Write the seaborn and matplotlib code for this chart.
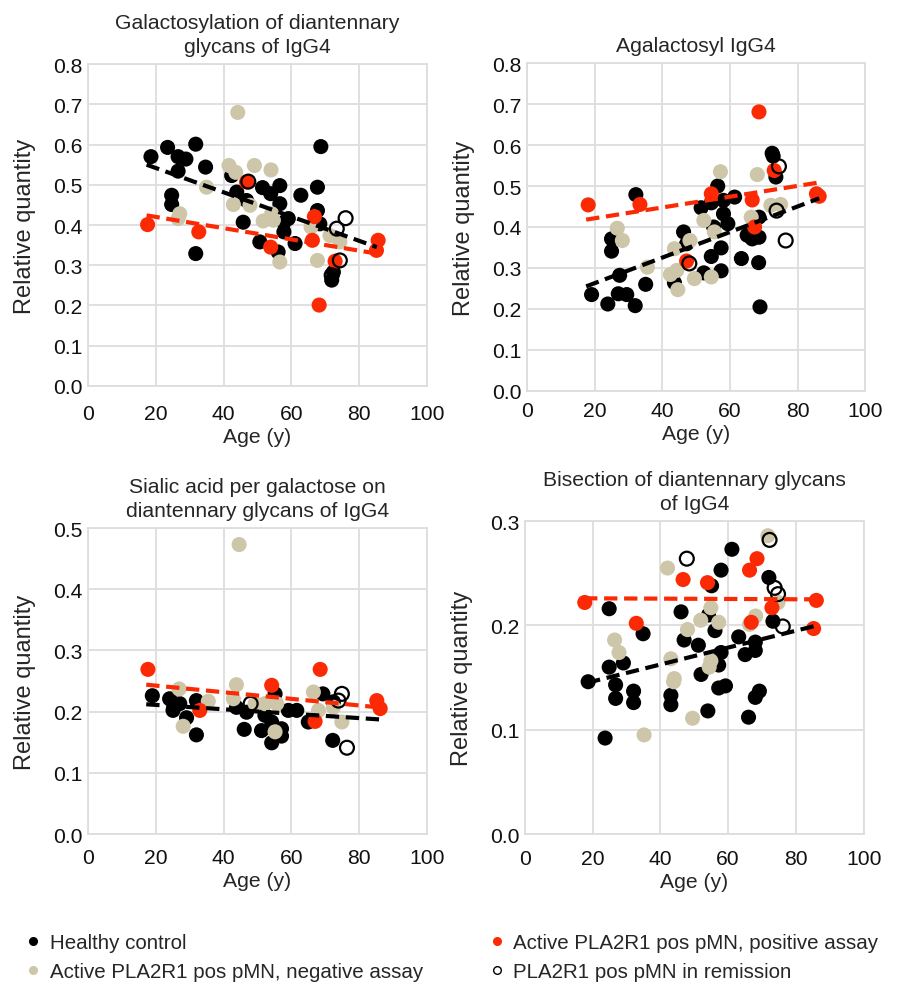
import matplotlib
matplotlib.use("Agg")
import matplotlib.pyplot as plt
from matplotlib.lines import Line2D
import seaborn as sns
import pandas as pd
import numpy as np

# groups
groups = ["Healthy control", "Active PLA2R1 pos pMN, negative assay",
          "Active PLA2R1 pos pMN, positive assay", "PLA2R1 pos pMN in remission"]
colors = {"Healthy control": "#000000",
          "Active PLA2R1 pos pMN, negative assay": "#cdc6a9",
          "Active PLA2R1 pos pMN, positive assay": "#fb2a04",
          "PLA2R1 pos pMN in remission": "#000000"}

titles = ["Galactosylation of diantennary\nglycans of IgG4",
          "Agalactosyl IgG4",
          "Sialic acid per galactose on\ndiantennary glycans of IgG4",
          "Bisection of diantennary glycans\nof IgG4"]
ymax = [0.8, 0.8, 0.5, 0.3]

# (age, relative quantity)
gal_healthy = [(18.6, 0.570), (23.5, 0.593), (26.6, 0.570), (28.9, 0.564), (26.6, 0.534), (31.8, 0.601),
               (34.7, 0.544), (24.7, 0.474), (24.7, 0.451), (31.8, 0.329), (42.4, 0.523), (43.9, 0.482),
               (46.8, 0.461), (45.8, 0.407), (51.5, 0.493), (53.9, 0.478), (56.6, 0.498), (56.6, 0.453),
               (50.7, 0.358), (56.1, 0.333), (57.8, 0.407), (57.8, 0.383), (59.1, 0.416), (61.1, 0.354),
               (62.8, 0.474), (67.7, 0.494), (67.7, 0.436), (68.7, 0.595), (68.4, 0.403), (71.9, 0.263),
               (72.4, 0.283)]
gal_negative = [(44.2, 0.680), (41.6, 0.548), (43.6, 0.531), (49.1, 0.548), (54.0, 0.537), (35.0, 0.494),
                (27.1, 0.428), (26.6, 0.416), (42.9, 0.451), (47.8, 0.449), (51.7, 0.410), (54.7, 0.412),
                (54.2, 0.428), (56.6, 0.308), (67.7, 0.312), (65.8, 0.395), (71.4, 0.374), (74.3, 0.358)]
gal_positive = [(17.6, 0.401), (32.7, 0.383), (46.8, 0.507), (53.9, 0.345), (66.2, 0.362), (66.8, 0.421),
                (68.2, 0.201), (72.9, 0.310), (85.6, 0.362), (85.1, 0.337)]
gal_remission = [(47.3, 0.508), (76.0, 0.417), (73.4, 0.391), (74.3, 0.312), (71.9, 0.275)]

agal_healthy = [(72.5, 0.580), (72.8, 0.573), (73.6, 0.522), (32.2, 0.479), (56.4, 0.500), (51.5, 0.447),
                (54.5, 0.459), (58.1, 0.465), (61.4, 0.473), (58.1, 0.432), (59.4, 0.408), (55.2, 0.400),
                (68.6, 0.424), (65.1, 0.380), (66.6, 0.371), (68.6, 0.375), (46.3, 0.388), (25.0, 0.371),
                (25.0, 0.341), (47.2, 0.359), (57.4, 0.349), (54.5, 0.328), (63.4, 0.323), (68.5, 0.313),
                (57.4, 0.293), (52.3, 0.288), (27.4, 0.282), (35.1, 0.260), (43.6, 0.264), (19.1, 0.235),
                (27.0, 0.237), (29.5, 0.235), (23.9, 0.212), (32.0, 0.208), (68.9, 0.205)]
agal_negative = [(57.2, 0.535), (68.1, 0.528), (72.1, 0.453), (75.0, 0.455), (66.3, 0.424), (52.3, 0.416),
                 (55.4, 0.388), (26.7, 0.397), (28.2, 0.367), (48.2, 0.367), (43.6, 0.347), (35.6, 0.302),
                 (44.3, 0.294), (42.4, 0.284), (49.5, 0.274), (54.5, 0.278), (44.6, 0.247)]
agal_positive = [(68.6, 0.681), (18.1, 0.454), (33.4, 0.455), (54.5, 0.481), (66.6, 0.466), (67.3, 0.400),
                 (73.1, 0.538), (85.6, 0.481), (86.4, 0.475), (47.2, 0.317)]
agal_remission = [(74.5, 0.548), (73.8, 0.440), (76.5, 0.367), (48.0, 0.311)]

sia_healthy = [(19.0, 0.226), (24.1, 0.221), (25.1, 0.202), (27.1, 0.213), (29.1, 0.190), (32.0, 0.218),
               (32.0, 0.162), (43.8, 0.207), (46.8, 0.199), (46.1, 0.171), (51.2, 0.169), (52.2, 0.194),
               (55.2, 0.229), (54.2, 0.183), (57.1, 0.172), (57.1, 0.160), (54.2, 0.149), (59.1, 0.202),
               (61.6, 0.202), (65.0, 0.183), (69.3, 0.229), (72.2, 0.153), (72.4, 0.216)]
sia_negative = [(44.6, 0.473), (26.9, 0.237), (35.5, 0.217), (28.1, 0.176), (43.8, 0.244), (42.9, 0.221),
                (49.3, 0.213), (52.2, 0.213), (55.7, 0.213), (55.2, 0.167), (66.5, 0.232), (68.0, 0.202),
                (74.9, 0.183), (72.4, 0.207)]
sia_positive = [(17.7, 0.269), (68.5, 0.269), (54.2, 0.243), (33.0, 0.202), (67.0, 0.184), (85.2, 0.218),
                (86.2, 0.205)]
sia_remission = [(48.0, 0.213), (74.9, 0.229), (73.9, 0.218), (76.4, 0.141)]

bis_healthy = [(24.9, 0.216), (34.9, 0.192), (46.1, 0.213), (47.0, 0.186), (51.2, 0.181), (55.1, 0.238),
               (54.2, 0.210), (56.1, 0.195), (57.9, 0.253), (61.1, 0.273), (63.1, 0.189), (72.0, 0.246),
               (73.2, 0.204), (68.0, 0.184), (68.0, 0.176), (65.0, 0.172), (57.9, 0.174), (57.2, 0.162),
               (52.0, 0.153), (57.2, 0.140), (59.2, 0.142), (69.2, 0.137), (68.0, 0.131), (66.0, 0.112),
               (54.0, 0.118), (43.1, 0.133), (43.1, 0.124), (32.1, 0.137), (32.1, 0.126), (26.8, 0.143),
               (26.8, 0.130), (24.9, 0.160), (29.1, 0.164), (18.7, 0.146), (23.7, 0.092)]
bis_negative = [(71.7, 0.286), (42.1, 0.255), (26.5, 0.186), (27.8, 0.174), (54.9, 0.217), (51.9, 0.205),
                (57.2, 0.203), (48.0, 0.196), (68.1, 0.209), (66.3, 0.201), (43.1, 0.168), (44.1, 0.149),
                (43.9, 0.146), (54.9, 0.166), (54.4, 0.160), (49.5, 0.111), (35.2, 0.095), (74.7, 0.222)]
bis_positive = [(17.7, 0.222), (32.9, 0.202), (46.7, 0.244), (53.9, 0.241), (66.3, 0.253), (68.5, 0.264),
                (72.9, 0.217), (86.0, 0.224), (85.2, 0.197), (66.8, 0.203)]
bis_remission = [(47.8, 0.264), (72.2, 0.282), (73.7, 0.236), (74.7, 0.230), (76.1, 0.199)]

# trend lines (start, end)
gal_trend_healthy = [(17.3, 0.550), (85.2, 0.345)]
gal_trend_positive = [(17.3, 0.424), (85.2, 0.329)]
agal_trend_healthy = [(17.5, 0.255), (86.4, 0.470)]
agal_trend_positive = [(17.5, 0.418), (86.6, 0.509)]
sia_trend_healthy = [(17.2, 0.212), (86.7, 0.187)]
sia_trend_positive = [(17.2, 0.244), (85.7, 0.207)]
bis_trend_healthy = [(18.4, 0.145), (86.2, 0.200)]
bis_trend_positive = [(17.5, 0.226), (86.0, 0.225)]

panels = [
    ([gal_healthy, gal_negative, gal_positive, gal_remission], gal_trend_healthy, gal_trend_positive),
    ([agal_healthy, agal_negative, agal_positive, agal_remission], agal_trend_healthy, agal_trend_positive),
    ([sia_healthy, sia_negative, sia_positive, sia_remission], sia_trend_healthy, sia_trend_positive),
    ([bis_healthy, bis_negative, bis_positive, bis_remission], bis_trend_healthy, bis_trend_positive),
]

sns.set_style("whitegrid")
plt.rcParams["font.family"] = ["Liberation Sans", "DejaVu Sans"]
fs = 15.2

fig, axes = plt.subplots(2, 2, figsize=(8.97, 9.87), dpi=100)
positions = [[0.098, 0.608, 0.378, 0.326],
             [0.5875, 0.603, 0.377, 0.332],
             [0.098, 0.154, 0.378, 0.310],
             [0.585, 0.154, 0.378, 0.317]]
xpads = [13, 7, 10, 11]
grid_c = "#dddddd"

for i, ax in enumerate(axes.flat):
    ax.set_position(positions[i])
    sets, th, tp = panels[i]
    for g, pts in zip(groups, sets):
        df = pd.DataFrame(pts, columns=["age", "val"])
        if g == "PLA2R1 pos pMN in remission":
            sns.scatterplot(data=df, x="age", y="val", ax=ax, s=100, marker="o",
                            facecolors="none", edgecolor="black", linewidth=1.6, zorder=4)
        else:
            sns.scatterplot(data=df, x="age", y="val", ax=ax, s=118, color=colors[g],
                            edgecolor="none", linewidth=0, zorder=3)
    for tr, c in [(th, "black"), (tp, colors[groups[2]])]:
        tdf = pd.DataFrame(tr, columns=["age", "val"])
        sns.lineplot(data=tdf, x="age", y="val", ax=ax, color=c, lw=3,
                     linestyle=(0, (3.2, 1.6)), zorder=5)
    ax.set_xlim(0, 100)
    ax.set_ylim(0, ymax[i])
    ax.set_xticks(np.arange(0, 101, 20))
    yt = np.round(np.arange(0, ymax[i] + 0.001, 0.1), 1)
    ax.set_yticks(yt)
    ax.set_yticklabels([f"{v:.1f}" for v in yt])
    ax.grid(True, color=grid_c, lw=1.3)
    for sp in ax.spines.values():
        sp.set_color(grid_c)
        sp.set_linewidth(1.3)
    ax.tick_params(axis="both", length=0, labelsize=fs, colors="#111111")
    ax.tick_params(axis="x", pad=xpads[i])
    ax.tick_params(axis="y", pad=4)
    ax.set_xlabel("Age (y)", fontsize=fs, labelpad=3)
    ax.set_ylabel("Relative quantity", fontsize=17, labelpad=12)
    ax.set_title(titles[i], fontsize=fs, pad=9, linespacing=1.3)

handles = [
    Line2D([], [], marker="o", ls="", color="black", markersize=5.5),
    Line2D([], [], marker="o", ls="", color=colors[groups[1]], markersize=5.5),
    Line2D([], [], marker="o", ls="", color=colors[groups[2]], markersize=5.5),
    Line2D([], [], marker="o", ls="", markerfacecolor="none", markeredgecolor="black", markersize=5.5),
]
fig.legend(handles, groups, loc="lower left", bbox_to_anchor=(0.005, -0.014), ncol=2,
           frameon=False, fontsize=14.8, handletextpad=0.3, columnspacing=3.1,
           labelspacing=0.5, handlelength=1.0)

fig.savefig("out.png", dpi=100)
